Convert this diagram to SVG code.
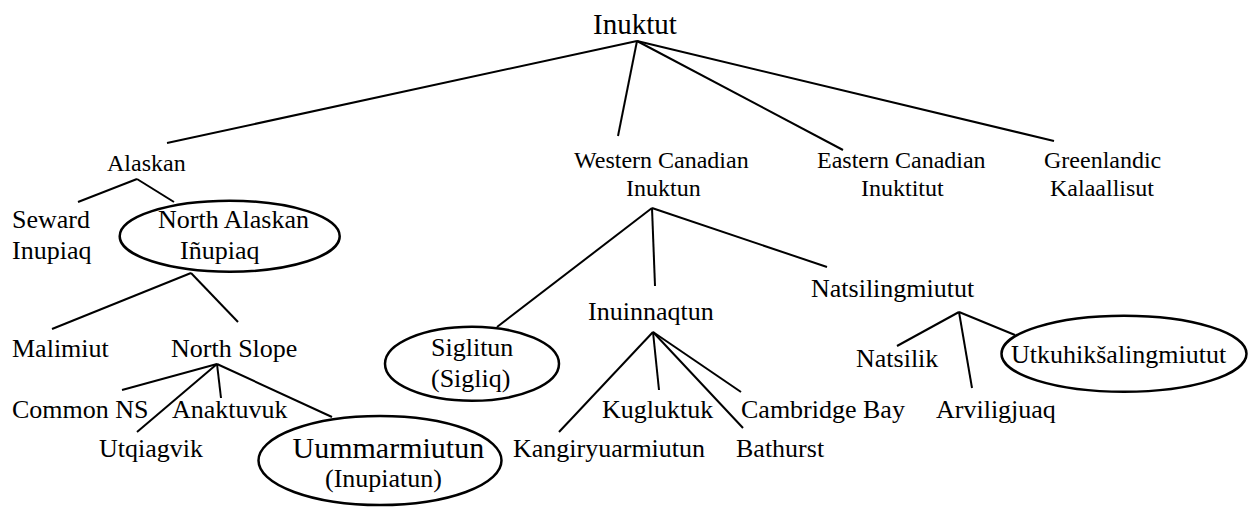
<svg xmlns="http://www.w3.org/2000/svg" width="1248" height="507" viewBox="0 0 1248 507">
<style>
text{font-family:"Liberation Serif","Times New Roman",serif;fill:#000}
.s24{font-size:24px}.s26{font-size:26px}.s29{font-size:29px}.s30{font-size:30px}
.e{fill:none;stroke:#000;stroke-width:2.5}
#connectors line{stroke:#000;stroke-width:2}
</style>
<rect width="1248" height="507" fill="#fff"/>
<g id="connectors">
<line x1="637" y1="41" x2="167" y2="143"/>
<line x1="637" y1="41" x2="618" y2="136"/>
<line x1="637" y1="41" x2="843" y2="150"/>
<line x1="637" y1="41" x2="1054" y2="141"/>
<line x1="137" y1="179" x2="78" y2="202"/>
<line x1="137" y1="179" x2="174" y2="202"/>
<line x1="191" y1="273" x2="52" y2="329"/>
<line x1="191" y1="273" x2="238" y2="322"/>
<line x1="217" y1="364" x2="122" y2="390"/>
<line x1="217" y1="364" x2="137" y2="432"/>
<line x1="217" y1="364" x2="221" y2="398"/>
<line x1="217" y1="364" x2="332" y2="417"/>
<line x1="652" y1="208" x2="497" y2="327"/>
<line x1="652" y1="208" x2="655" y2="286"/>
<line x1="652" y1="208" x2="827" y2="267"/>
<line x1="653" y1="332" x2="559" y2="432"/>
<line x1="653" y1="332" x2="659" y2="390"/>
<line x1="653" y1="332" x2="743" y2="428"/>
<line x1="653" y1="332" x2="741" y2="392"/>
<line x1="959" y1="312" x2="897" y2="346"/>
<line x1="959" y1="312" x2="972" y2="388"/>
<line x1="959" y1="312" x2="1015" y2="335"/>
</g>
<g id="inuktut"><text class="s29" x="593" y="34">Inuktut</text></g>
<g id="alaskan"><text class="s24" x="107" y="171">Alaskan</text></g>
<g id="western"><text class="s24" x="574" y="168">Western Canadian</text><text class="s24" x="626" y="196">Inuktun</text></g>
<g id="eastern"><text class="s24" x="817" y="168">Eastern Canadian</text><text class="s24" x="861" y="196">Inuktitut</text></g>
<g id="greenlandic"><text class="s24" x="1044" y="168">Greenlandic</text><text class="s24" x="1050" y="196">Kalaallisut</text></g>
<g id="seward"><text class="s26" x="12" y="228">Seward</text><text class="s26" x="12" y="259">Inupiaq</text></g>
<g id="northalaskan"><ellipse class="e" cx="229.7" cy="236.2" rx="110" ry="35.5"/><text class="s26" x="158" y="228">North Alaskan</text><text class="s26" x="180" y="259">Iñupiaq</text></g>
<g id="malimiut"><text class="s26" x="12" y="357">Malimiut</text></g>
<g id="northslope"><text class="s26" x="171" y="357">North Slope</text></g>
<g id="commonns"><text class="s26" x="12" y="418">Common NS</text></g>
<g id="anaktuvuk"><text class="s26" x="172" y="418">Anaktuvuk</text></g>
<g id="utqiagvik"><text class="s26" x="99" y="457">Utqiagvik</text></g>
<g id="uummarmiutun"><ellipse class="e" cx="380" cy="460.5" rx="121.5" ry="44.5"/><text class="s30" x="292.5" y="458">Uummarmiutun</text><text class="s26" x="325" y="487">(Inupiatun)</text></g>
<g id="siglitun"><ellipse class="e" cx="472" cy="363.8" rx="87" ry="37"/><text class="s26" x="431" y="356">Siglitun</text><text class="s26" x="431" y="387">(Sigliq)</text></g>
<g id="inuinnaqtun"><text class="s26" x="588" y="320">Inuinnaqtun</text></g>
<g id="kugluktuk"><text class="s26" x="602" y="418">Kugluktuk</text></g>
<g id="cambridge"><text class="s26" x="741" y="418">Cambridge Bay</text></g>
<g id="kangiryuarmiutun"><text class="s26" x="513" y="457">Kangiryuarmiutun</text></g>
<g id="bathurst"><text class="s26" x="736" y="457">Bathurst</text></g>
<g id="natsilingmiutut"><text class="s26" x="811" y="297">Natsilingmiutut</text></g>
<g id="natsilik"><text class="s26" x="856" y="367">Natsilik</text></g>
<g id="arviligjuaq"><text class="s26" x="936" y="418">Arviligjuaq</text></g>
<g id="utkuhik"><ellipse class="e" cx="1124" cy="353.7" rx="122.5" ry="38"/><text class="s26" x="1011" y="363">Utkuhikšalingmiutut</text></g>
</svg>
